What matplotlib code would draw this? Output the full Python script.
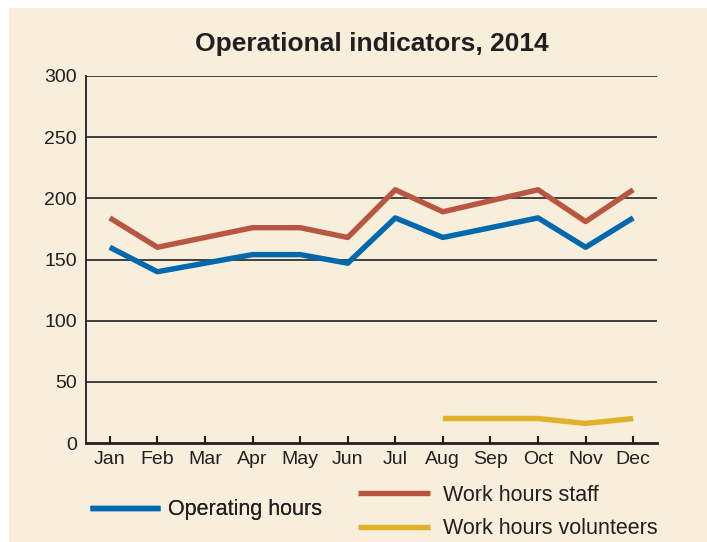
import matplotlib
matplotlib.use("Agg")
import matplotlib.pyplot as plt
from matplotlib.patches import Rectangle

plt.rcParams['font.family'] = ['Liberation Sans', 'DejaVu Sans']

months = ["Jan", "Feb", "Mar", "Apr", "May", "Jun", "Jul", "Aug", "Sep", "Oct", "Nov", "Dec"]
operating_hours = [160, 140, 147, 154, 154, 147, 184, 168, 176, 184, 160, 184]
work_hours_staff = [184, 160, 168, 176, 176, 168, 207, 189, 198, 207, 181, 207]
volunteer_months = ["Aug", "Sep", "Oct", "Nov", "Dec"]
work_hours_volunteers = [20, 20, 20, 16, 20]
y_ticks = [0, 50, 100, 150, 200, 250, 300]

BG = "#F7EEDB"
TXT = "#231F20"
C_BLUE = "#0068AD"
C_RED = "#B85642"
C_YEL = "#DFB22A"

W, H = 707, 542
fig = plt.figure(figsize=(W / 100, H / 100), dpi=100, facecolor=BG)
# white strips at top and left
fig.patches.append(Rectangle((0, 0), 9 / W, 1, transform=fig.transFigure,
                             facecolor="white", edgecolor="none", zorder=-10))
fig.patches.append(Rectangle((0, 1 - 8 / H), 1, 8 / H, transform=fig.transFigure,
                             facecolor="white", edgecolor="none", zorder=-10))

left, right, top, bottom = 86, 657, 76, 443
ax = fig.add_axes([left / W, 1 - bottom / H, (right - left) / W, (bottom - top) / H])
ax.set_facecolor(BG)

x = list(range(len(months)))
xv = [months.index(m) for m in volunteer_months]
lw = 3.9
l1, = ax.plot(x, operating_hours, color=C_BLUE, lw=lw, solid_capstyle="butt", zorder=3)
l2, = ax.plot(x, work_hours_staff, color=C_RED, lw=lw, solid_capstyle="butt", zorder=3)
l3, = ax.plot(xv, work_hours_volunteers, color=C_YEL, lw=lw, solid_capstyle="butt", zorder=3)

ax.set_xlim(-0.5, len(months) - 0.5)
ax.set_ylim(0, 300)
ax.set_yticks(y_ticks)
ax.set_xticks(x)
ax.set_xticklabels(months)
for yv in y_ticks[1:]:
    ax.axhline(yv, color="#222222", lw=1.2, zorder=1)

for s in ["top", "right"]:
    ax.spines[s].set_visible(False)
ax.spines["left"].set_color(TXT)
ax.spines["left"].set_linewidth(1.3)
ax.spines["bottom"].set_color(TXT)
ax.spines["bottom"].set_linewidth(2.0)

ax.tick_params(axis="x", direction="in", length=5, width=1.5, color=TXT,
               labelsize=14, labelcolor=TXT, pad=6)
ax.tick_params(axis="y", length=0, labelsize=14, labelcolor=TXT, pad=6.5)

ax.set_title("Operational indicators, 2014", fontsize=19, fontweight="bold",
             color=TXT, pad=18)

fs_leg = 15.5
leg1 = fig.legend([l1], ["Operating hours"], loc="center left",
                  bbox_to_anchor=(90 / W, 1 - 510 / H), frameon=False,
                  fontsize=fs_leg, handlelength=3.25, handletextpad=0.37,
                  borderpad=0, borderaxespad=0, labelcolor=TXT)
leg2 = fig.legend([l2, l3], ["Work hours staff", "Work hours volunteers"],
                  loc="center left", bbox_to_anchor=(358 / W, 1 - 512 / H),
                  frameon=False, fontsize=fs_leg, handlelength=3.35,
                  handletextpad=0.6, labelspacing=0.58, borderpad=0,
                  borderaxespad=0, labelcolor=TXT)
fig.add_artist(leg1)

fig.savefig("out.png", dpi=100, facecolor=BG)
